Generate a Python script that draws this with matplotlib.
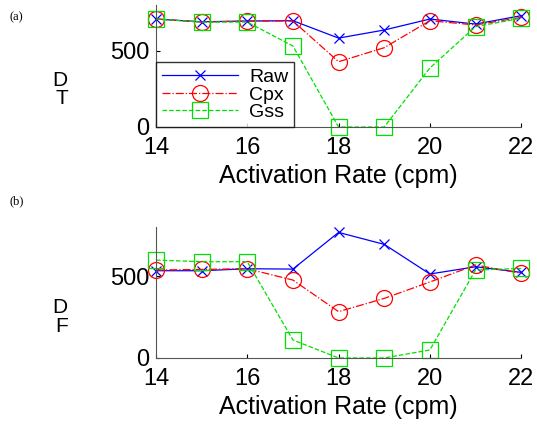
import numpy as np
import matplotlib
matplotlib.use("Agg")
import matplotlib.pyplot as plt

plt.rcParams['font.family'] = ['Liberation Sans', 'DejaVu Sans']

# activation rate (cpm)
rate = [14, 15, 16, 17, 18, 19, 20, 21, 22]

# panel (a)
raw_a = [708, 690, 695, 697, 583, 636, 708, 675, 730]
cpx_a = [708, 688, 695, 695, 428, 520, 697, 669, 719]
gss_a = [708, 688, 688, 531, 0, 0, 387, 658, 713]

# panel (b)
raw_b = [533, 533, 545, 543, 767, 694, 513, 557, 523]
cpx_b = [537, 541, 545, 476, 283, 364, 464, 568, 517]
gss_b = [598, 588, 588, 110, 0, 0, 49, 537, 547]

xticks = [14, 16, 18, 20, 22]
yticks = [0, 500]

fig = plt.figure(figsize=(5.37, 4.28), dpi=100)
ax_a = fig.add_axes([0.2905, 0.7033, 0.680, 0.285])
ax_b = fig.add_axes([0.2905, 0.1636, 0.680, 0.306])

def draw(ax, raw, cpx, gss, legend=False):
    ax.plot(rate, raw, '-', color='blue', marker='x', ms=7, mew=0.9, lw=0.9, label='Raw')
    ax.plot(rate, cpx, '-.', color='red', marker='o', ms=11.5, mfc='none', mew=0.9, lw=0.9, label='Cpx')
    ax.plot(rate, gss, '--', color='#00e000', marker='s', ms=11.5, mfc='none', mew=0.9, lw=0.9, label='Gss')
    ax.set_xlim(14, 22)
    ax.set_ylim(0, 800)
    ax.set_xticks(xticks)
    ax.set_yticks(yticks)
    ax.tick_params(direction='in', length=3, labelsize=17)
    ax.tick_params(axis='x', pad=7)
    ax.tick_params(axis='y', pad=5)
    ax.spines['top'].set_visible(False)
    ax.spines['right'].set_visible(False)
    for s in ['left', 'bottom']:
        ax.spines[s].set_color('#555555')
        ax.spines[s].set_clip_on(False)
    for ln in ax.lines:
        ln.set_clip_on(False)
    ax.set_xlabel('Activation Rate (cpm)', fontsize=18, labelpad=4)
    if legend:
        leg = ax.legend(loc='lower left', fontsize=14, frameon=True, fancybox=False,
                        borderaxespad=0.0, handlelength=3.9, handletextpad=0.6,
                        labelspacing=0.0, borderpad=0.3)
        leg.get_frame().set_edgecolor('black')
        leg.get_frame().set_linewidth(1.0)

draw(ax_a, raw_a, cpx_a, gss_a, legend=True)
draw(ax_b, raw_b, cpx_b, gss_b)

fig.text(0.018, 0.953, '(a)', fontsize=9, family='Liberation Serif')
fig.text(0.018, 0.522, '(b)', fontsize=9, family='Liberation Serif')

# odd y-axis labels
fig.text(0.112, 0.812, 'D', fontsize=15, ha='center', va='center')
fig.text(0.115, 0.769, 'T', fontsize=15, ha='center', va='center')
fig.text(0.112, 0.282, 'D', fontsize=15, ha='center', va='center')
fig.text(0.115, 0.236, 'F', fontsize=15, ha='center', va='center')

fig.savefig('out.png', dpi=100)
